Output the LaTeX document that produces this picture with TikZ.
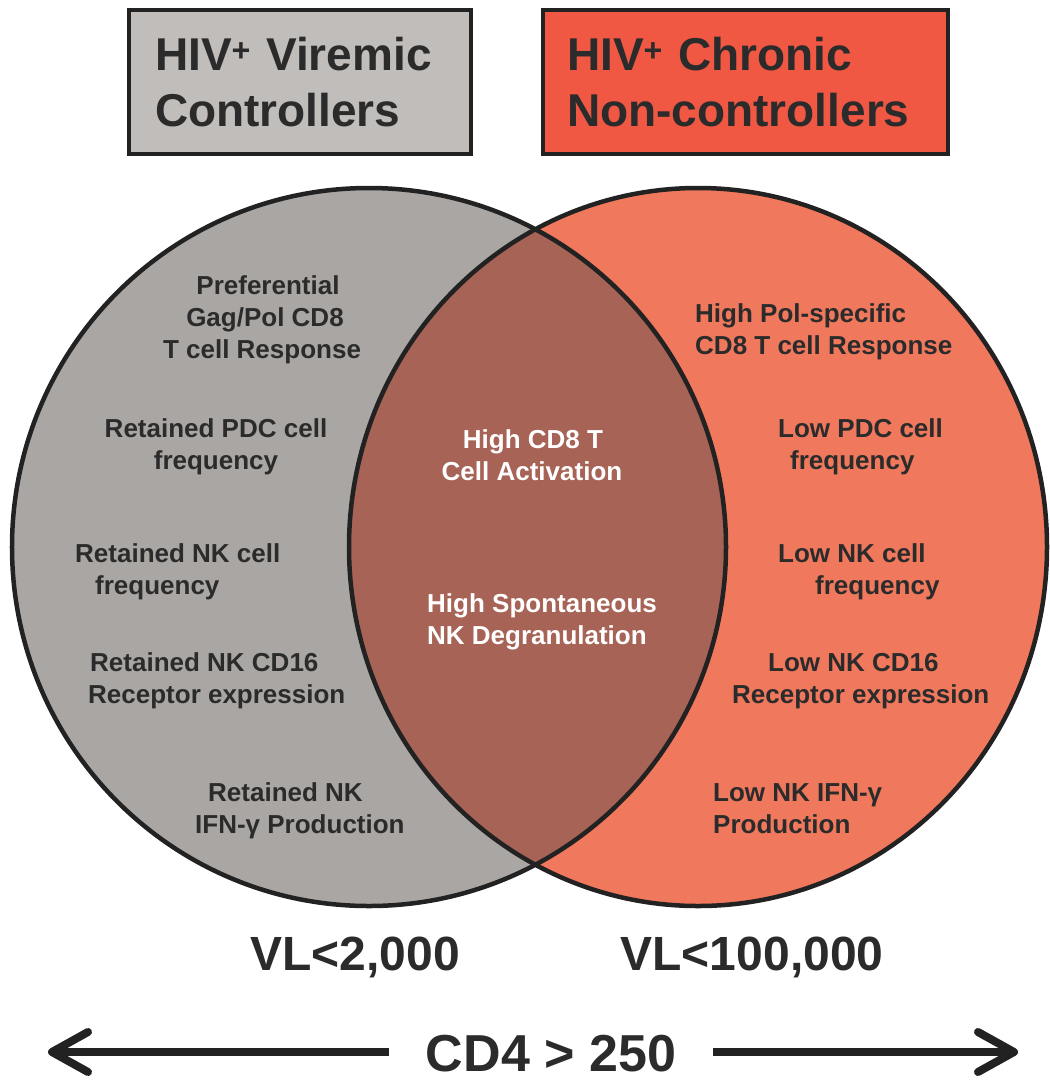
\documentclass[tikz,border=0pt]{standalone}
\usepackage{fontspec}
\setmainfont{Liberation Sans}
\usetikzlibrary{arrows.meta}
\definecolor{leftgray}{HTML}{A9A6A4}
\definecolor{rightsalmon}{HTML}{F0785D}
\definecolor{lensbrown}{HTML}{A66356}
\definecolor{boxgray}{HTML}{C0BDBB}
\definecolor{boxred}{HTML}{F05844}
\definecolor{ink}{HTML}{2B2B2B}
\definecolor{edge}{HTML}{222222}
\begin{document}
\begin{tikzpicture}[x=1bp,y=-1bp,
  lbl/.style={font=\fontsize{26bp}{32bp}\selectfont\bfseries, text=ink, inner sep=0pt},
  lblc/.style={lbl, anchor=base},
  lbll/.style={lbl, anchor=base west},
  lblw/.style={lbl, text=white, anchor=base},
  lblwl/.style={lbl, text=white, anchor=base west},
  hdr/.style={draw=edge, line width=4bp, font=\fontsize{46bp}{56bp}\selectfont\bfseries, text=ink, align=left, minimum height=144bp, inner ysep=0pt, anchor=north west},
  vl/.style={font=\fontsize{48bp}{56bp}\selectfont\bfseries, text=ink, inner sep=0pt, anchor=base},
  ring/.style={draw=edge, line width=4.5bp}
]
\useasboundingbox (0,0) rectangle (1050,1085);

% header boxes
\node[hdr, fill=boxgray, text width=290bp, inner xsep=26bp] (box1) at (127,8) {HIV\textsuperscript{+} Viremic\\Controllers};
\node[hdr, fill=boxred, text width=357bp, inner xsep=24bp] (box2) at (541,8) {HIV\textsuperscript{+} Chronic\\Non-controllers};

% Venn fills
\fill[leftgray] (369,547) ellipse [x radius=357bp, y radius=359bp];
\fill[rightsalmon] (698,547) ellipse [x radius=349bp, y radius=359bp];
\begin{scope}
  \clip (369,547) ellipse [x radius=357bp, y radius=359bp];
  \fill[lensbrown] (698,547) ellipse [x radius=349bp, y radius=359bp];
\end{scope}
\path[ring] (369,547) ellipse [x radius=357bp, y radius=359bp];
\path[ring] (698,547) ellipse [x radius=349bp, y radius=359bp];

% left texts
\node[lblc] (l1a) at (268,294) {Preferential};
\node[lblc] (l1b) at (265,326) {Gag/Pol CD8};
\node[lblc] (l1c) at (262,358) {T cell Response};
\node[lblc] (l2a) at (216,437) {Retained PDC cell};
\node[lblc] (l2b) at (216,469) {frequency};
\node[lbll] (l3a) at (75,562) {Retained NK cell};
\node[lbll] (l3b) at (95,594) {frequency};
\node[lbll] (l4a) at (90,671) {Retained NK CD16};
\node[lbll] (l4b) at (88,703) {Receptor expression};
\node[lbll] (l5a) at (208,801) {Retained NK};
\node[lbll] (l5b) at (195,833) {IFN-γ Production};

% middle texts
\node[lblw] (m1a) at (533,448) {High CD8 T};
\node[lblw] (m1b) at (532,480) {Cell Activation};
\node[lblwl] (m2a) at (427,612) {High Spontaneous};
\node[lblwl] (m2b) at (427,644) {NK Degranulation};

% right texts
\node[lbll] (r1a) at (695,322) {High Pol-specific};
\node[lbll] (r1b) at (695,354) {CD8 T cell Response};
\node[lbll] (r2a) at (778,437) {Low PDC cell};
\node[lbll] (r2b) at (790,469) {frequency};
\node[lbll] (r3a) at (778,562) {Low NK cell};
\node[lbll] (r3b) at (815,594) {frequency};
\node[lbll] (r4a) at (768,671) {Low NK CD16};
\node[lbll] (r4b) at (732,703) {Receptor expression};
\node[lbll] (r5a) at (713,801) {Low NK IFN-γ};
\node[lbll] (r5b) at (713,833) {Production};

% viral load labels
\node[vl] (vl1) at (355,970) {VL<2,000};
\node[vl] (vl2) at (752,970) {VL<100,000};

% CD4 arrow
\node[font=\fontsize{52bp}{60bp}\selectfont\bfseries, text=ink, anchor=base, inner xsep=37bp, inner ysep=0pt] (cd4) at (551,1071) {CD4 > 250};
\coordinate (ltip) at (48,1052);
\coordinate (rtip) at (1018,1052);
\draw[edge, line width=8bp, -{Straight Barb[round,length=36bp,width=40bp]}] (cd4.west |- ltip) -- (ltip);
\draw[edge, line width=8bp, -{Straight Barb[round,length=36bp,width=40bp]}] (cd4.east |- rtip) -- (rtip);
\end{tikzpicture}
\end{document}
